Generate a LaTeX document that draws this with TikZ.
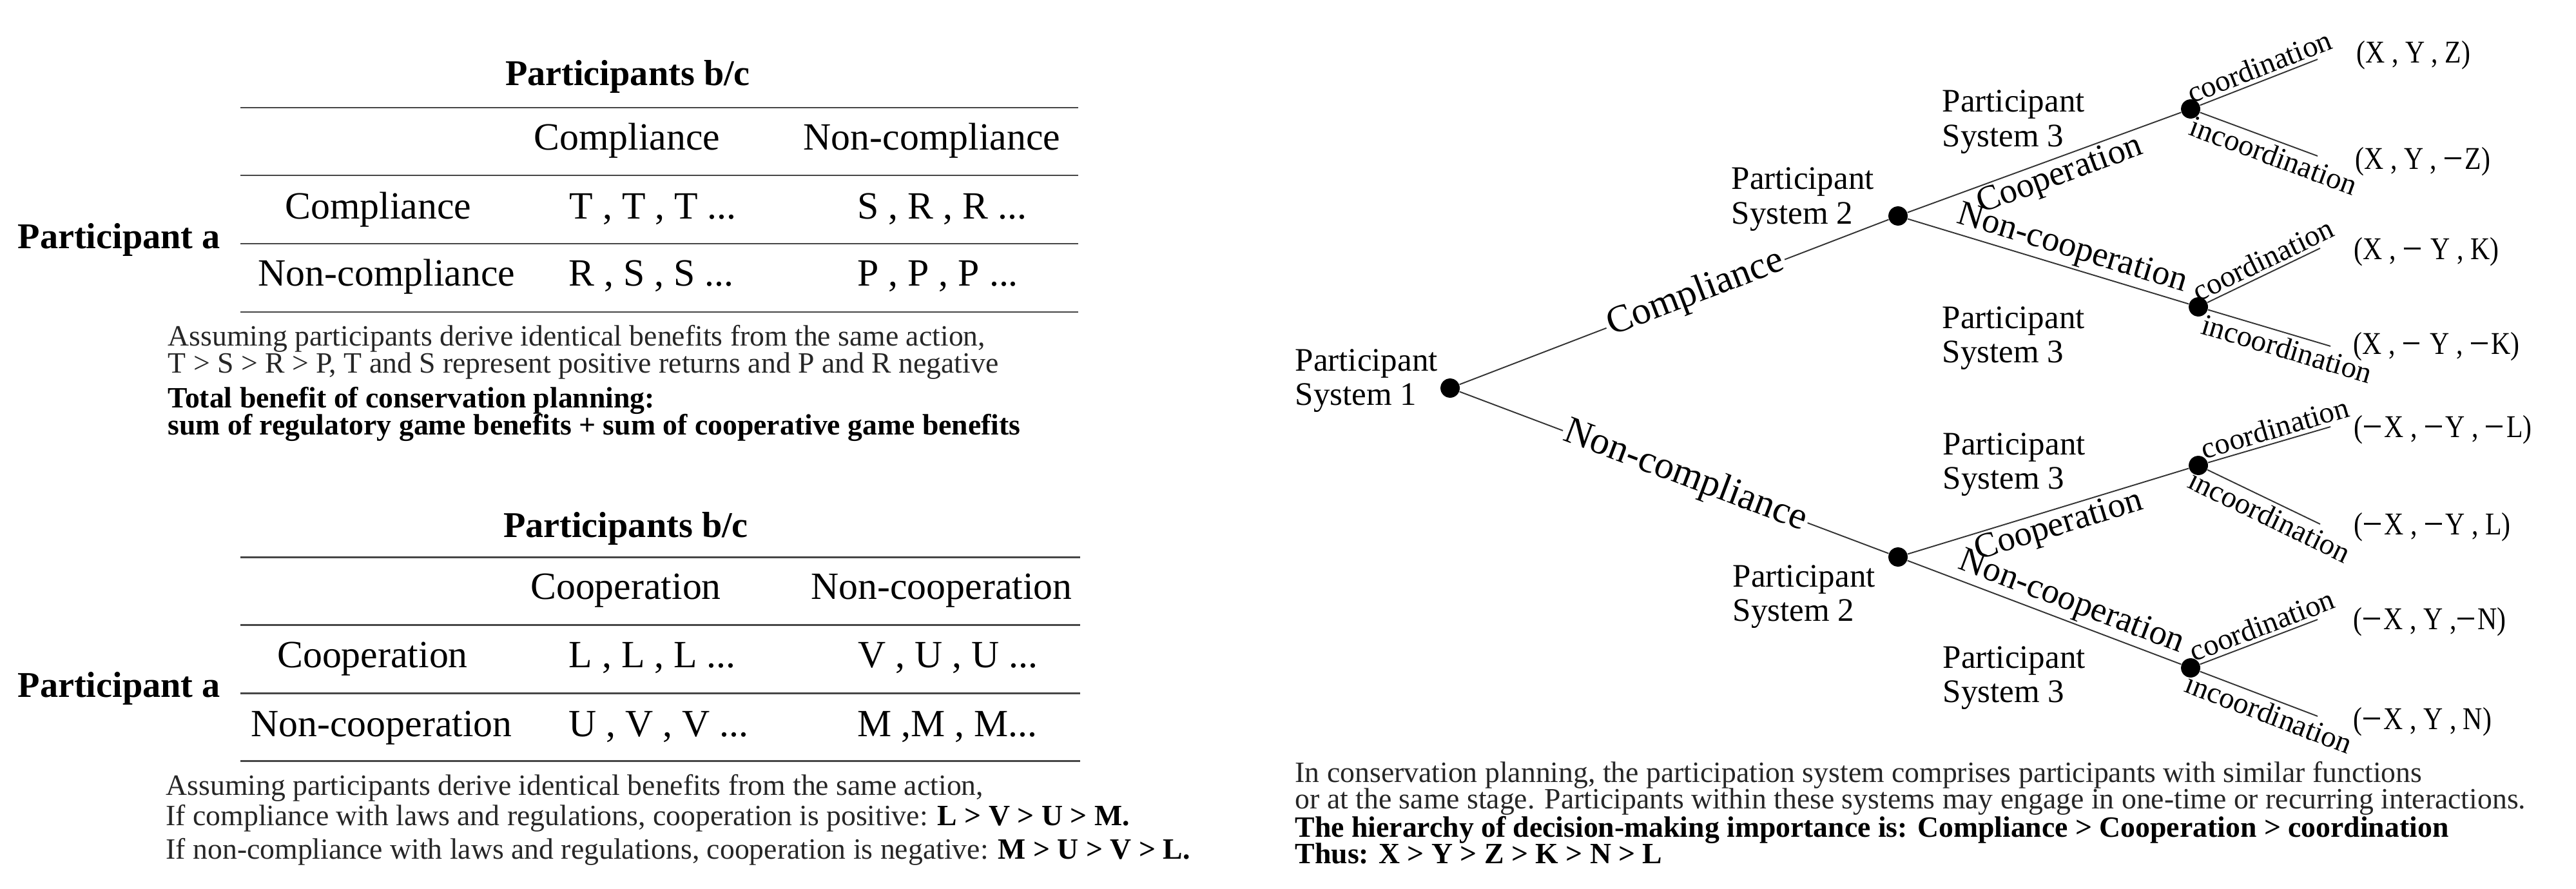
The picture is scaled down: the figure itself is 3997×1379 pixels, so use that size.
\documentclass[tikz,border=0pt]{standalone}
\usepackage{fontspec}
\setmainfont{Liberation Serif}
\usepackage{graphicx}
\newcommand\fs[1]{\fontsize{#1}{#1}\selectfont}
\newcommand\twoline[2]{\vtop{\baselineskip=15.1pt\hbox{#1}\hbox{#2}}}
\newcommand\mi{\kern0.03em\rule[0.3em]{0.62em}{0.075em}\kern0.14em}
\newcommand\pay[1]{\scalebox{0.85}[1]{#1}}
\tikzset{
  tabc/.style={anchor=base, inner sep=0pt, font=\fs{17}},
  tabl/.style={anchor=base west, inner sep=0pt, font=\fs{17}},
  headc/.style={anchor=base, inner sep=0pt, font=\fs{16}\bfseries},
  headl/.style={anchor=base west, inner sep=0pt, font=\fs{16}\bfseries},
  captext/.style={anchor=base west, inner sep=0pt, font=\fs{13}, text=black!85},
  capbold/.style={anchor=base west, inner sep=0pt, font=\fs{13}\bfseries, text=black},
  rulel/.style={line width=0.85pt, draw=black!72},
  dot/.style={circle, fill=black, inner sep=0pt, minimum size=8.5pt},
  br/.style={line width=0.55pt, draw=black!80},
  plab/.style={anchor=base west, inner sep=0pt, font=\fs{14.5}},
  mainlab/.style={sloped, fill=white, inner sep=1pt, font=\fs{17}},
  midlab/.style={sloped, inner sep=1pt, font=\fs{15.5}},
  leaflab/.style={sloped, inner sep=1.5pt, font=\fs{13.3}},
  payoff/.style={anchor=base west, inner sep=0pt, font=\fs{14}}
}
\begin{document}
\begin{tikzpicture}[x=0.01cm, y=-0.01cm]
\useasboundingbox (0,0) rectangle (3997,1379);

% ---------- Table 1 ----------
\node[headc] (t1title) at (974,133) {Participants b/c};
\draw[rulel] (373,167) -- (1673,167);
\draw[rulel] (373,272) -- (1673,272);
\draw[rulel] (373,378) -- (1673,378);
\draw[rulel] (373,484) -- (1673,484);
\node[tabc] (t1h1) at (973,232) {Compliance};
\node[tabc] (t1h2) at (1446,232) {Non-compliance};
\node[tabc] (t1r1) at (587,339) {Compliance};
\node[tabl] (t1c11) at (883,339) {T , T , T ...};
\node[tabl] (t1c12) at (1330,339) {S , R , R ...};
\node[tabc] (t1r2) at (600,443) {Non-compliance};
\node[tabl] (t1c21) at (882,443) {R , S , S ...};
\node[tabl] (t1c22) at (1330,443) {P , P , P ...};
\node[headl] (t1pa) at (27,385) {Participant a};
\node[captext] (t1cap1) at (260,536) {Assuming participants derive identical benefits from the same action,};
\node[captext] (t1cap2) at (260,578) {T > S > R > P, T and S represent positive returns and P and R negative};
\node[capbold] (t1cap3) at (260,632) {Total benefit of conservation planning:};
\node[capbold] (t1cap4) at (260,674) {sum of regulatory game benefits + sum of cooperative game benefits};

% ---------- Table 2 ----------
\node[headc] (t2title) at (971,833) {Participants b/c};
\draw[rulel] (373,864) -- (1676,864);
\draw[rulel] (373,969) -- (1676,969);
\draw[rulel] (373,1075) -- (1676,1075);
\draw[rulel] (373,1180) -- (1676,1180);
\node[tabc] (t2h1) at (971,929) {Cooperation};
\node[tabc] (t2h2) at (1461,929) {Non-cooperation};
\node[tabc] (t2r1) at (578,1035) {Cooperation};
\node[tabl] (t2c11) at (882,1035) {L , L , L ...};
\node[tabl] (t2c12) at (1331,1035) {V , U , U ...};
\node[tabc] (t2r2) at (592,1142) {Non-cooperation};
\node[tabl] (t2c21) at (882,1142) {U , V , V ...};
\node[tabl] (t2c22) at (1330,1142) {M ,M , M...};
\node[headl] (t2pa) at (27,1081) {Participant a};
\node[captext] (t2cap1) at (257,1233) {Assuming participants derive identical benefits from the same action,};
\node[captext] (t2cap2) at (257,1280) {If compliance with laws and regulations, cooperation is positive: \textbf{\color{black}L > V > U > M.}};
\node[captext] (t2cap3) at (257,1332) {If non-compliance with laws and regulations, cooperation is negative: \textbf{\color{black}M > U > V > L.}};

% ---------- Tree ----------
\node[dot] (R) at (2250,602) {};
\node[dot] (A) at (2945,335) {};
\node[dot] (B) at (2945,864) {};
\node[dot] (A1) at (3399,169) {};
\node[dot] (A2) at (3411,476) {};
\node[dot] (B1) at (3411,722) {};
\node[dot] (B2) at (3399,1036) {};

\node[plab] (lR) at (2009,575) {\twoline{Participant}{System 1}};
\node[plab] (lA) at (2686,294) {\twoline{Participant}{System 2}};
\node[plab] (lB) at (2688,910) {\twoline{Participant}{System 2}};
\node[plab] (lA1) at (3013,174) {\twoline{Participant}{System 3}};
\node[plab] (lA2) at (3013,509) {\twoline{Participant}{System 3}};
\node[plab] (lB1) at (3014,705) {\twoline{Participant}{System 3}};
\node[plab] (lB2) at (3014,1036) {\twoline{Participant}{System 3}};

\draw[br] (R) -- node[mainlab, pos=0.55] (eComp) {Compliance} (A);
\draw[br] (R) -- node[mainlab, pos=0.526] (eNon) {Non-compliance} (B);
\draw[br] (A) -- node[midlab, below, pos=0.535] (eAc) {Cooperation} (A1);
\draw[br] (A) -- node[midlab, above, pos=0.566] (eAn) {Non-cooperation} (A2);
\draw[br] (B) -- node[midlab, below, pos=0.52] (eBc) {Cooperation} (B1);
\draw[br] (B) -- node[midlab, above, pos=0.575] (eBn) {Non-cooperation} (B2);

\coordinate (a1u) at (3596,92);
\coordinate (a1d) at (3596,242);
\coordinate (a2u) at (3600,385);
\coordinate (a2d) at (3616,537);
\coordinate (b1u) at (3616,662);
\coordinate (b1d) at (3600,813);
\coordinate (b2u) at (3596,961);
\coordinate (b2d) at (3596,1111);

\draw[br] (A1) -- node[leaflab, above, pos=0.55] (cA1u) {coordination} (a1u);
\draw[br] (A1) -- node[leaflab, below, pos=0.67] (cA1d) {incoordination} (a1d);
\draw[br] (A2) -- node[leaflab, above, pos=0.55] (cA2u) {coordination} (a2u);
\draw[br] (A2) -- node[leaflab, below, pos=0.68] (cA2d) {incoordination} (a2d);
\draw[br] (B1) -- node[leaflab, above, pos=0.58] (cB1u) {coordination} (b1u);
\draw[br] (B1) -- node[leaflab, below, pos=0.61] (cB1d) {incoordination} (b1d);
\draw[br] (B2) -- node[leaflab, above, pos=0.57] (cB2u) {coordination} (b2u);
\draw[br] (B2) -- node[leaflab, below, pos=0.63] (cB2d) {incoordination} (b2d);

\node[payoff] (p1) at (3656,98) {\pay{(X , Y , Z)}};
\node[payoff] (p2) at (3654,262) {\pay{(X , Y , \mi Z)}};
\node[payoff] (p3) at (3652,402) {\pay{(X , \mi{} Y , K)}};
\node[payoff] (p4) at (3651,549) {\pay{(X , \mi{} Y , \mi K)}};
\node[payoff] (p5) at (3652,678) {\pay{(\mi X , \mi Y , \mi L)}};
\node[payoff] (p6) at (3652,829) {\pay{(\mi X , \mi Y , L)}};
\node[payoff] (p7) at (3651,976) {\pay{(\mi X , Y ,\mi N)}};
\node[payoff] (p8) at (3651,1131) {\pay{(\mi X , Y , N)}};

\node[captext] (tc1) at (2009,1213) {In conservation planning, the participation system comprises participants with similar functions};
\node[captext] (tc2) at (2009,1254) {or at the same stage. Participants within these systems may engage in one-time or recurring interactions.};
\node[capbold] (tc3) at (2009,1298) {The hierarchy of decision-making importance is: Compliance > Cooperation > coordination};
\node[capbold] (tc4) at (2009,1339) {Thus: X > Y > Z > K > N > L};
\end{tikzpicture}
\end{document}
